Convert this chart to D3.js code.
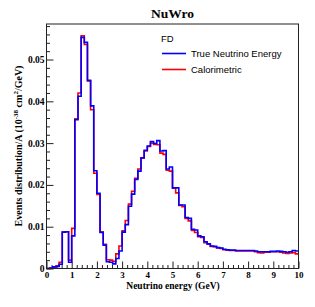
<!DOCTYPE html>
<html>
<head>
<meta charset="utf-8">
<script src="https://cdn.jsdelivr.net/npm/d3@7"></script>
<style>
  body { margin: 0; background: #fff; }
  svg { display: block; }
</style>
</head>
<body>
<div id="chart"></div>
<script>
// histogram settings: 80 bins from 0 to 10 GeV
const binLow = 0;
const binWidth = 0.125;

// True neutrino energy (blue)
const trueEnergy = [
  0, 0.0001, 0.0004, 0.0005, 0.0010, 0.0087, 0.0088, 0.0015, 0.0078, 0.0356,
  0.0412, 0.0553, 0.0541, 0.0450, 0.0389, 0.0234, 0.0180, 0.0086, 0.0056, 0.0016,
  0.0015, 0.0011, 0.0024, 0.0042, 0.0087, 0.0105, 0.0149, 0.0178, 0.0213, 0.0233,
  0.0265, 0.0283, 0.0293, 0.0304, 0.0299, 0.0306, 0.0281, 0.0282, 0.0238, 0.0243,
  0.0193, 0.0193, 0.0152, 0.0152, 0.0122, 0.0120, 0.0094, 0.0092, 0.0078, 0.0076,
  0.0064, 0.0059, 0.0054, 0.0053, 0.0050, 0.0049, 0.0046, 0.0045, 0.0044, 0.0044,
  0.0043, 0.0043, 0.0043, 0.0043, 0.0043, 0.0043, 0.0042, 0.0040, 0.0040, 0.0040,
  0.0040, 0.0041, 0.0041, 0.0042, 0.0041, 0.0040, 0.0039, 0.0040, 0.0043, 0.0042
];

// Calorimetric reconstruction (red)
const calorimetric = [
  0, 0.0001, 0.0004, 0.0006, 0.0015, 0.0087, 0.0088, 0.0020, 0.0096, 0.0358,
  0.0420, 0.0557, 0.0536, 0.0449, 0.0380, 0.0228, 0.0177, 0.0088, 0.0058, 0.0021,
  0.0020, 0.0017, 0.0035, 0.0054, 0.0090, 0.0115, 0.0154, 0.0185, 0.0216, 0.0238,
  0.0264, 0.0281, 0.0292, 0.0300, 0.0297, 0.0296, 0.0276, 0.0273, 0.0235, 0.0233,
  0.0192, 0.0181, 0.0151, 0.0148, 0.0120, 0.0114, 0.0091, 0.0086, 0.0076, 0.0074,
  0.0062, 0.0058, 0.0053, 0.0052, 0.0049, 0.0048, 0.0045, 0.0044, 0.0043, 0.0043,
  0.0042, 0.0042, 0.0042, 0.0042, 0.0042, 0.0042, 0.0040, 0.0038, 0.0037, 0.0039,
  0.0039, 0.0040, 0.0040, 0.0040, 0.0039, 0.0037, 0.0036, 0.0037, 0.0038, 0.0035
];

const xMajorTicks = [0, 1, 2, 3, 4, 5, 6, 7, 8, 9, 10];
const yMajorTicks = [0, 0.01, 0.02, 0.03, 0.04, 0.05];
const legendLabels = ['True Neutrino Energy', 'Calorimetric'];
const legendColors = ['#0000ff', '#ff0000'];

const width = 315, height = 307;
const serif = '"Liberation Serif", "DejaVu Serif", serif';
const sans = '"Liberation Sans", Arial, sans-serif';

const svg = d3.select('#chart').append('svg')
  .attr('width', width)
  .attr('height', height);

const xScale = d3.scaleLinear().domain([0, 10]).range([46.5, 298.5]);
const yScale = d3.scaleLinear().domain([0, 0.0585]).range([268.5, 24]);

// minor ticks
const xMinor = d3.range(0, 10.001, 0.2).filter(v => Math.abs(v - Math.round(v)) > 1e-6);
const yMinor = d3.range(0, 0.0585, 0.002).filter(v => Math.abs(v * 100 - Math.round(v * 100)) > 1e-6);

svg.append('g')
  .attr('transform', 'translate(0,268.5)')
  .call(d3.axisBottom(xScale).tickValues(xMinor).tickSizeInner(-3.5).tickSizeOuter(0).tickFormat(''))
  .call(g => g.select('.domain').remove());

svg.append('g')
  .attr('transform', 'translate(46.5,0)')
  .call(d3.axisLeft(yScale).tickValues(yMinor).tickSizeInner(-3.5).tickSizeOuter(0).tickFormat(''))
  .call(g => g.select('.domain').remove());

// major ticks with labels
const xAxis = svg.append('g')
  .attr('transform', 'translate(0,268.5)')
  .call(d3.axisBottom(xScale).tickValues(xMajorTicks).tickSizeInner(-7).tickSizeOuter(0).tickPadding(3).tickFormat(d3.format('d')));
xAxis.select('.domain').remove();
xAxis.selectAll('text').attr('font-family', serif).attr('font-weight', 'bold').attr('font-size', 9).attr('fill', '#000');

const yAxis = svg.append('g')
  .attr('transform', 'translate(46.5,0)')
  .call(d3.axisLeft(yScale).tickValues(yMajorTicks).tickSizeInner(-7).tickSizeOuter(0).tickPadding(2).tickFormat(d => d === 0 ? '0' : d3.format('.2f')(d)));
yAxis.select('.domain').remove();
yAxis.selectAll('text').attr('font-family', serif).attr('font-weight', 'bold').attr('font-size', 9.5).attr('fill', '#000');

svg.selectAll('.tick line').attr('stroke', '#222');

// histogram outlines
const stepLine = d3.line()
  .x(d => xScale(d[0]))
  .y(d => yScale(d[1]))
  .curve(d3.curveStepAfter);

function histPoints(values) {
  const pts = values.map((v, i) => [binLow + i * binWidth, v]);
  pts.push([binLow + values.length * binWidth, values[values.length - 1]]);
  return pts;
}

svg.append('path')
  .datum(histPoints(calorimetric))
  .attr('d', stepLine)
  .attr('fill', 'none')
  .attr('stroke', legendColors[1])
  .attr('stroke-width', 1.6);

svg.append('path')
  .datum(histPoints(trueEnergy))
  .attr('d', stepLine)
  .attr('fill', 'none')
  .attr('stroke', legendColors[0])
  .attr('stroke-width', 1.6);

// frame
svg.append('rect')
  .attr('x', 46.5).attr('y', 24)
  .attr('width', 252).attr('height', 244.5)
  .attr('fill', 'none')
  .attr('stroke', '#222')
  .attr('stroke-width', 1);

// title
svg.append('text')
  .attr('x', 172.5).attr('y', 17.5)
  .attr('text-anchor', 'middle')
  .attr('font-family', serif).attr('font-weight', 'bold').attr('font-size', 13.5)
  .text('NuWro');

// axis titles
svg.append('text')
  .attr('x', 173).attr('y', 288.5)
  .attr('text-anchor', 'middle')
  .attr('font-family', serif).attr('font-weight', 'bold').attr('font-size', 9.5)
  .text('Neutrino energy (GeV)');

const yTitle = svg.append('text')
  .attr('transform', 'translate(21.5,146) rotate(-90)')
  .attr('text-anchor', 'middle')
  .attr('font-family', serif).attr('font-weight', 'bold').attr('font-size', 10);
yTitle.append('tspan').text('Events distribution/A (10');
yTitle.append('tspan').attr('dy', -4).attr('font-size', 7).text('-38');
yTitle.append('tspan').attr('dy', 4).text(' cm');
yTitle.append('tspan').attr('dy', -4).attr('font-size', 7).text('2');
yTitle.append('tspan').attr('dy', 4).text('/GeV)');

// legend
const legend = svg.append('g').attr('font-family', sans).attr('font-size', 9.5);
legend.append('text').attr('x', 161).attr('y', 41.5).text('FD');
legendLabels.forEach((label, i) => {
  const ly = 53.5 + i * 16;
  legend.append('line')
    .attr('x1', 162).attr('x2', 186)
    .attr('y1', ly).attr('y2', ly)
    .attr('stroke', legendColors[i])
    .attr('stroke-width', 1.6);
  legend.append('text')
    .attr('x', 191).attr('y', ly + 3.3)
    .text(label);
});
</script>
</body>
</html>
